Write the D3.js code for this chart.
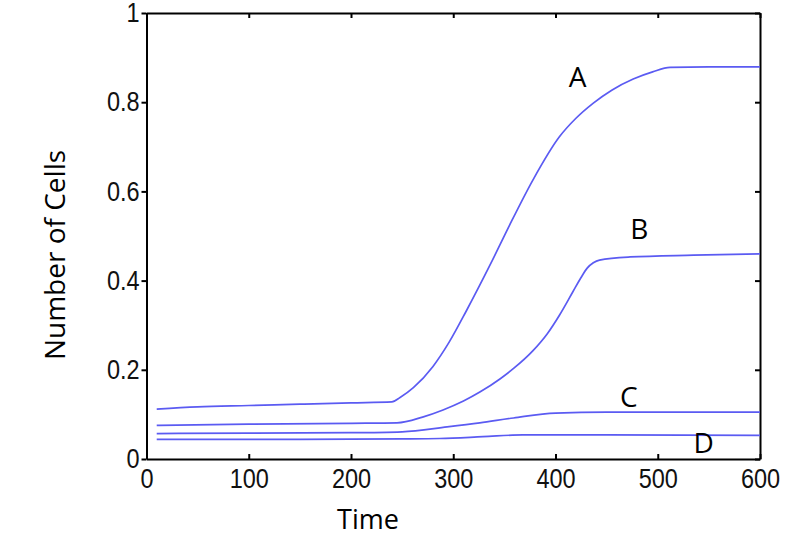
<!DOCTYPE html>
<html>
<head>
<meta charset="utf-8">
<script src="https://cdn.jsdelivr.net/npm/d3@7"></script>
<style>
  body { margin: 0; background: #fff; }
  .tick line { stroke: #000; stroke-width: 2; }
  .domain { stroke: #000; stroke-width: 2; }
  .tick text { font-family: "Liberation Sans", Arial, sans-serif; font-size: 27px; fill: #111; }
  .lbl { font-family: "Open Sans", sans-serif; fill: #000; }
</style>
</head>
<body>
<div id="chart"></div>
<script>
// curves (time, number of cells)
const timeA = [10, 50, 100, 150, 200, 240, 248, 261, 280, 296, 313, 336, 355, 378, 404, 420, 437, 455, 476, 495, 512, 550, 600];
const cellsA = [0.112, 0.117, 0.120, 0.123, 0.126, 0.128, 0.138, 0.160, 0.207, 0.262, 0.333, 0.435, 0.524, 0.626, 0.723, 0.764, 0.798, 0.827, 0.852, 0.868, 0.878, 0.879, 0.879];

const timeB = [10, 100, 200, 245, 270, 290, 310, 326, 346, 359, 378, 392, 404, 417, 425, 431, 437, 443, 473, 535, 600];
const cellsB = [0.0755, 0.078, 0.080, 0.081, 0.094, 0.110, 0.130, 0.150, 0.180, 0.203, 0.243, 0.281, 0.323, 0.375, 0.407, 0.428, 0.440, 0.446, 0.453, 0.457, 0.46];

const timeC = [10, 100, 200, 250, 294, 326, 359, 400, 450, 600];
const cellsC = [0.057, 0.058, 0.059, 0.061, 0.072, 0.081, 0.092, 0.103, 0.105, 0.105];

const timeD = [10, 150, 250, 287, 329, 368, 450, 600];
const cellsD = [0.044, 0.044, 0.045, 0.046, 0.050, 0.054, 0.054, 0.053];

const curveNames = ["A", "B", "C", "D"];
// where each curve name sits, in data units
const nameTime = [413, 473, 463, 535];
const nameCells = [0.834, 0.493, 0.117, 0.013];

const xTicks = [0, 100, 200, 300, 400, 500, 600];
const yTicks = [0, 0.2, 0.4, 0.6, 0.8, 1];

const width = 802;
const height = 535;
const margin = { top: 13, right: 42, bottom: 76, left: 146.5 };

var svg = d3.select("#chart")
    .append("svg")
    .attr("width", width)
    .attr("height", height);

var x = d3.scaleLinear()
    .domain([0, 600])
    .range([margin.left, width - margin.right]);

var y = d3.scaleLinear()
    .domain([0, 1])
    .range([height - margin.bottom, margin.top]);

// axes: left ticks stick out, the other three point inward
svg.append("g")
    .attr("transform", "translate(" + x(0) + ",0)")
    .call(d3.axisLeft(y).tickValues(yTicks).tickFormat(d3.format("~g"))
        .tickSizeInner(5).tickSizeOuter(0).tickPadding(3));

svg.append("g")
    .attr("transform", "translate(0," + y(0) + ")")
    .call(d3.axisBottom(x).tickValues(xTicks)
        .tickSizeInner(-5).tickSizeOuter(0).tickPadding(10));

svg.append("g")
    .attr("transform", "translate(0," + y(1) + ")")
    .call(d3.axisTop(x).tickValues(xTicks).tickFormat("")
        .tickSizeInner(-5).tickSizeOuter(0));

svg.append("g")
    .attr("transform", "translate(" + x(600) + ",0)")
    .call(d3.axisRight(y).tickValues(yTicks).tickFormat("")
        .tickSizeInner(-5).tickSizeOuter(0));

// tick numbers look narrow in the original
svg.selectAll(".tick text")
    .attr("transform", "scale(0.87,1)");

var series = [
    d3.zip(timeA, cellsA),
    d3.zip(timeB, cellsB),
    d3.zip(timeC, cellsC),
    d3.zip(timeD, cellsD)
];

var line = d3.line()
    .x(d => x(d[0]))
    .y(d => y(d[1]))
    .curve(d3.curveMonotoneX);

svg.selectAll(".curve")
    .data(series)
    .enter().append("path")
    .attr("class", "curve")
    .attr("fill", "none")
    .attr("stroke", "#5b5bf2")
    .attr("stroke-width", 1.7)
    .attr("d", line);

svg.selectAll(".name")
    .data(curveNames)
    .enter().append("text")
    .attr("class", "lbl")
    .attr("x", (d, i) => x(nameTime[i]))
    .attr("y", (d, i) => y(nameCells[i]))
    .style("font-size", "28px")
    .text(d => d);

svg.append("text")
    .attr("class", "lbl")
    .attr("x", 368)
    .attr("y", 529)
    .attr("text-anchor", "middle")
    .style("font-size", "27px")
    .text("Time");

svg.append("text")
    .attr("class", "lbl")
    .attr("transform", "translate(65,255) rotate(-90)")
    .attr("text-anchor", "middle")
    .style("font-size", "28px")
    .text("Number of Cells");
</script>
</body>
</html>
